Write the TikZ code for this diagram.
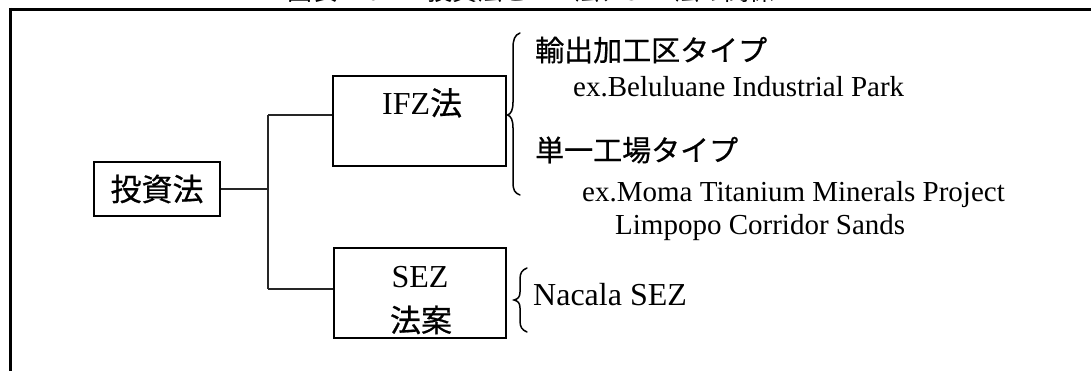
\documentclass[tikz,border=0pt]{standalone}
\usepackage{fontspec}
\setmainfont{Liberation Serif}
\newfontfamily\jp{Noto Sans CJK JP}
\newfontfamily\jpb[FakeBold=0.6]{Noto Sans CJK JP}
\tikzset{
  frameline/.style={line width=2.8pt, black},
  box/.style={draw=black, line width=1.3pt, inner sep=0pt},
  conn/.style={draw=black!85, line width=1.3pt},
  bracepath/.style={draw=black, line width=1.5pt, line cap=round},
  jpbig/.style={font=\jpb\fontsize{29}{34}\selectfont, inner sep=0pt},
  serif/.style={font=\fontsize{29}{34}\selectfont, inner sep=0pt},
}
\begin{document}
\begin{tikzpicture}[x=1pt,y=-1pt]
\useasboundingbox (0,0) rectangle (1091,371);
\clip (0,0) rectangle (1091,371);
% cut-off title
\node[font=\jp\fontsize{25}{30}\selectfont, anchor=base, inner sep=0pt] (title) at (531,0.5) {図表 II-6-2　投資法と IFZ 法、SEZ 法の関係};
% frame
\draw[frameline] (9.5,9.5) -- (1091,9.5);
\draw[frameline] (10.5,8) -- (10.5,371);
% boxes
\node[box, minimum width=126pt, minimum height=54pt, font=\jpb\fontsize{31}{36}\selectfont] (tz) at (157,189) {投資法};
\node[box, minimum width=173pt, minimum height=90pt] (ifz) at (419.5,121) {};
\node[box, minimum width=172pt, minimum height=90pt] (sez) at (420,293) {};
\node[anchor=base west, inner sep=0pt, font=\fontsize{32}{36}\selectfont] (ifzt) at (382,115) {IFZ{\jpb 法}};
\node[anchor=base, inner sep=0pt, font=\fontsize{32}{36}\selectfont] (sezt) at (420,287) {SEZ};
\node[inner sep=0pt, font=\jpb\fontsize{31}{36}\selectfont] (sezj) at (421,320) {法案};
% connectors
\coordinate (j) at (268,189);
\coordinate (jt) at (268,115);
\coordinate (jb) at (268,289);
\draw[conn] (tz.east |- j) -- (j);
\draw[conn] (jt) -- (jb);
\draw[conn] (jt) -- (jt -| ifz.west);
\draw[conn] (jb) -- (jb -| sez.west);
% braces
\draw[bracepath] (520,33) .. controls (514.5,35) and (513,40) .. (513,48) -- (513,102) .. controls (513,110) and (511,114) .. (507.5,115) .. controls (511,116) and (513,120) .. (513,128) -- (513,182) .. controls (513,190) and (514.5,193) .. (520,195);
\draw[bracepath] (527,268) .. controls (522,270) and (520,273) .. (520,279) -- (520,292) .. controls (520,297) and (518,299) .. (514,300) .. controls (518,301) and (520,303) .. (520,308) -- (520,321) .. controls (520,327) and (522,330) .. (527,332);
% right side texts
\node[jpbig, anchor=west] (t1) at (535,50) {輸出加工区タイプ};
\node[serif, anchor=base west] (t1e) at (573,97) {ex.Beluluane Industrial Park};
\node[jpbig, anchor=west] (t2) at (535,150) {単一工場タイプ};
\node[serif, anchor=base west] (t2e) at (582,202) {ex.Moma Titanium Minerals Project};
\node[serif, anchor=base west] (t2f) at (615,235) {Limpopo Corridor Sands};
\node[anchor=base west, inner sep=0pt, font=\fontsize{32}{36}\selectfont] (t3) at (533,305) {Nacala SEZ};
\end{tikzpicture}
\end{document}
